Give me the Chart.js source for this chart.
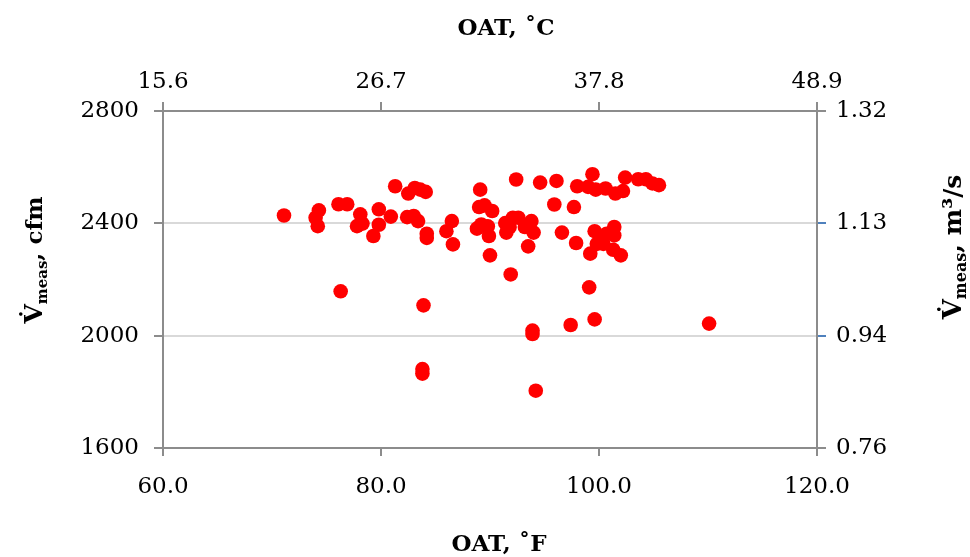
<!DOCTYPE html>
<html>
<head>
<meta charset="utf-8">
<script src="https://cdn.jsdelivr.net/npm/chart.js@4"></script>
<style>
html,body{margin:0;padding:0;background:#fff;}
#wrap{width:970px;height:557px;}
</style>
</head>
<body>
<div id="wrap"><canvas id="c" width="970" height="557"></canvas></div>
<script>
const oatF = [71.1,74.3,74.0,74.2,76.1,76.9,78.1,77.8,78.3,79.3,79.8,79.8,80.9,81.3,82.5,83.1,83.6,84.1,82.4,83.0,83.4,84.2,84.2,86.0,86.5,86.6,76.3,83.9,83.8,83.8,
  89.1,89.0,89.5,90.2,88.8,89.2,89.8,89.9,90.0,91.9,92.4,94.6,96.1,95.9,97.7,91.4,92.1,92.6,91.5,91.8,93.2,93.8,94.0,93.5,96.6,97.9,93.9,93.9,94.2,97.4,99.6,99.1,110.1,
  98.0,99.4,99.0,99.7,100.6,101.5,102.2,102.4,103.6,104.3,104.9,105.5,99.6,100.1,100.7,101.4,101.4,99.8,100.4,101.3,102.0,99.2];
const flowCfm = [2428,2446,2420,2390,2468,2468,2432,2390,2399,2355,2450,2395,2424,2532,2506,2526,2520,2512,2422,2426,2408,2363,2348,2372,2408,2325,2158,2108,1881,1865,
  2520,2458,2464,2444,2381,2396,2389,2355,2286,2218,2556,2545,2551,2467,2458,2401,2420,2420,2367,2387,2387,2408,2367,2318,2367,2330,2018,2006,1804,2038,2058,2172,2043,
  2532,2575,2530,2520,2524,2506,2515,2563,2557,2557,2542,2536,2372,2345,2363,2387,2357,2327,2327,2306,2286,2292];
const topTicksC = [15.6, 26.7, 37.8, 48.9];
const rightTickLabels = ['0.76', '0.94', '1.13', '1.32'];

const points = oatF.map((x, i) => ({x: x, y: flowCfm[i]}));
const FONT = "'DejaVu Serif', 'Liberation Serif', serif";
const AXIS = '#8c8c8c';

const titles = {
  id: 'titles',
  afterDraw(chart) {
    const ctx = chart.ctx;
    const drawParts = (cx, baseline, parts, rotate) => {
      ctx.save();
      ctx.translate(cx, baseline);
      if (rotate) ctx.rotate(-Math.PI / 2);
      ctx.fillStyle = '#000';
      ctx.textBaseline = 'alphabetic';
      ctx.textAlign = 'left';
      let total = 0;
      parts.forEach(p => { ctx.font = 'bold ' + p.size + 'px ' + FONT; p.w = ctx.measureText(p.t).width; total += p.w; });
      let x = -total / 2;
      parts.forEach(p => { ctx.font = 'bold ' + p.size + 'px ' + FONT; ctx.fillText(p.t, x, p.dy); x += p.w; });
      ctx.restore();
    };
    drawParts(506, 35, [{t: 'OAT, \u02DAC', size: 23, dy: 0}], false);
    drawParts(499, 551, [{t: 'OAT, \u02DAF', size: 23, dy: 0}], false);
    drawParts(42, 260, [{t: 'V\u0307', size: 25, dy: 0}, {t: 'meas', size: 15, dy: 5}, {t: ', cfm', size: 23, dy: 0}], true);
    drawParts(961, 247, [{t: 'V\u0307', size: 26, dy: 0}, {t: 'meas', size: 16, dy: 5}, {t: ', m\u00B3/s', size: 25, dy: 0}], true);
  }
};

new Chart(document.getElementById('c'), {
  type: 'scatter',
  data: { datasets: [{ data: points, backgroundColor: '#ff0000', borderWidth: 0, pointRadius: 7.3, pointHoverRadius: 7.3 }] },
  plugins: [titles],
  options: {
    responsive: false,
    animation: false,
    events: [],
    layout: { padding: { left: 78, right: 83, top: 0, bottom: 0 } },
    plugins: { legend: { display: false }, tooltip: { enabled: false } },
    scales: {
      x: {
        type: 'linear', position: 'bottom', min: 60, max: 120,
        afterFit: s => { s.height = 109; },
        ticks: { stepSize: 20, color: '#000', font: { family: FONT, size: 23 }, padding: 17, callback: v => v.toFixed(1) },
        grid: { drawOnChartArea: false, drawTicks: true, tickLength: 8, color: AXIS, lineWidth: 2 },
        border: { color: AXIS, width: 2 }
      },
      x2: {
        type: 'linear', position: 'top', min: 15.6, max: 48.9,
        afterFit: s => { s.height = 111; },
        afterBuildTicks: s => { s.ticks = topTicksC.map(v => ({ value: v })); },
        ticks: { color: '#000', font: { family: FONT, size: 23 }, padding: 6, callback: v => v.toFixed(1) },
        grid: { drawOnChartArea: false, drawTicks: true, tickLength: 9, color: AXIS, lineWidth: 2 },
        border: { color: AXIS, width: 2 }
      },
      y: {
        type: 'linear', position: 'left', min: 1600, max: 2800,
        afterFit: s => { s.width = 85; },
        ticks: { stepSize: 400, color: '#000', font: { family: FONT, size: 23 }, padding: 15, callback: v => String(v) },
        grid: { drawOnChartArea: true, drawTicks: true, tickLength: 9, color: '#d9d9d9', tickColor: AXIS, lineWidth: 2 },
        border: { color: AXIS, width: 2 }
      },
      y2: {
        type: 'linear', position: 'right', min: 1600, max: 2800,
        afterFit: s => { s.width = 70; },
        ticks: { stepSize: 400, color: '#000', font: { family: FONT, size: 23 }, padding: 10, callback: (v, i) => rightTickLabels[i] },
        grid: { drawOnChartArea: false, drawTicks: true, tickLength: 9, lineWidth: 2,
                tickColor: c => (c.index === 1 || c.index === 2) ? '#4f81bd' : AXIS, color: AXIS },
        border: { color: AXIS, width: 2 }
      }
    }
  }
});
</script>
</body>
</html>
